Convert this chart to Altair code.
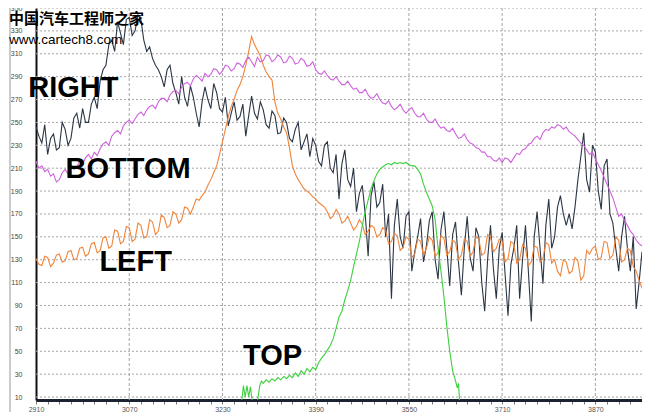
import altair as alt
import pandas as pd

# ---------------- data ----------------
x_right = list(range(2910, 3951, 5))
right_vals = [
    246, 238, 232, 248, 222, 236, 240, 226, 228, 250,
    244, 230, 236, 254, 258, 245, 262, 250, 250, 266,
    272, 262, 286, 296, 300, 318, 322, 312, 338, 328,
    318, 340, 342, 326, 330, 344, 340, 322, 312, 316,
    306, 300, 296, 290, 281, 296, 300, 284, 276, 266,
    290, 272, 264, 282, 272, 258, 246, 268, 281, 270,
    262, 284, 276, 262, 259, 272, 247, 258, 268, 252,
    255, 266, 238, 256, 273, 258, 253, 268, 261, 248,
    245, 260, 256, 240, 241, 254, 250, 236, 233, 244,
    250, 226, 233, 240, 220, 236, 230, 216, 212, 230,
    233, 210, 206, 222, 183, 214, 226, 200, 194, 210,
    172, 188, 195, 170, 133, 186, 198, 176, 180, 196,
    150, 170, 96, 160, 183, 150, 140, 168, 172, 120,
    137, 150, 166, 128, 142, 164, 172, 130, 113, 156,
    172, 140, 107, 152, 163, 128, 99, 140, 168, 132,
    120, 158, 150, 110, 85, 130, 160, 122, 96, 140,
    154, 118, 81, 126, 140, 160, 96, 130, 160, 120,
    76, 150, 172, 140, 109, 160, 183, 140, 150, 176,
    186, 170, 160, 170, 157, 176, 200, 220, 241, 200,
    189, 230, 224, 190, 174, 212, 218, 170, 162, 140,
    120, 150, 168, 140, 120, 150, 87, 110, 137]

x_bottom = list(range(2910, 3951, 5))
bottom_vals = [
    216, 210, 212, 207, 209, 203, 205, 198, 200, 206,
    209, 205, 213, 209, 211, 216, 214, 219, 222, 218,
    224, 221, 227, 231, 233, 230, 238, 241, 243, 240,
    247, 250, 252, 249, 253, 257, 259, 256, 261, 264,
    265, 262, 268, 271, 271, 268, 274, 277, 278, 275,
    281, 284, 285, 282, 288, 291, 289, 286, 293, 290,
    292, 297, 296, 292, 295, 300, 299, 295, 297, 302,
    301, 298, 304, 307, 303, 299, 307, 303, 304, 309,
    308, 303, 305, 309, 307, 302, 303, 308, 306, 301,
    302, 306, 304, 299, 300, 303, 296, 293, 292, 295,
    291, 288, 287, 290, 286, 283, 283, 286, 282, 279,
    280, 276, 276, 279, 274, 271, 272, 275, 270, 267,
    266, 269, 264, 261, 263, 266, 261, 258, 261, 263,
    258, 255, 255, 258, 253, 250, 250, 253, 248, 245,
    246, 243, 242, 245, 240, 236, 237, 240, 235, 232,
    231, 228, 227, 224, 224, 220, 220, 217, 216, 219,
    215, 219, 218, 215, 219, 223, 222, 226, 227, 231,
    232, 236, 238, 235, 241, 244, 243, 246, 245, 248,
    247, 244, 246, 242, 240, 238, 235, 232, 230, 226,
    222, 224, 218, 213, 208, 202, 196, 190, 184, 176,
    168, 170, 164, 160, 155, 152, 147, 144, 142]

x_left = list(range(2910, 3951, 5))
left_vals = [
    131, 126, 125, 133, 132, 124, 127, 134, 135, 128,
    129, 137, 138, 130, 131, 140, 141, 133, 135, 144,
    145, 136, 138, 149, 150, 140, 142, 156, 155, 144,
    146, 159, 158, 146, 148, 162, 160, 149, 150, 165,
    163, 152, 155, 169, 167, 158, 160, 172, 170, 162,
    165, 176, 175, 170, 176, 183, 182, 186, 189, 195,
    200, 206, 212, 222, 233, 244, 255, 264, 270, 278,
    283, 290, 300, 312, 325, 318, 313, 308, 300, 294,
    290, 287, 268, 258, 253, 246, 241, 228, 212, 205,
    200, 196, 192, 190, 188, 185, 183, 180, 178, 176,
    172, 166, 168, 174, 170, 162, 164, 168, 162, 156,
    159, 165, 161, 152, 155, 160, 158, 150, 152, 158,
    156, 144, 146, 153, 151, 138, 141, 150, 148, 132,
    135, 148, 146, 134, 140, 150, 147, 133, 136, 151,
    149, 134, 137, 147, 145, 130, 134, 148, 146, 133,
    137, 150, 148, 134, 136, 152, 150, 137, 140, 148,
    146, 128, 131, 146, 144, 127, 130, 143, 140, 125,
    128, 142, 141, 128, 131, 145, 143, 127, 130, 120,
    116, 130, 128, 118, 120, 132, 129, 112, 116, 138,
    135, 140, 142, 130, 132, 146, 145, 131, 134, 150,
    147, 128, 130, 140, 138, 124, 120, 112, 105]

x_top = [3263, 3266, 3269, 3272, 3275, 3278, 3281, 3290, 3294, 3297,
         3300, 3305, 3310, 3315, 3320, 3325, 3330, 3335, 3340, 3345,
         3350, 3355, 3360, 3365, 3370, 3375, 3380, 3385, 3390, 3395,
         3400, 3405, 3410, 3415, 3420, 3425, 3430, 3435, 3440, 3445,
         3450, 3455, 3460, 3465, 3470, 3475, 3480, 3485, 3490, 3495,
         3500, 3505, 3510, 3515, 3520, 3525, 3530, 3535, 3540, 3545,
         3550, 3555, 3560, 3565, 3570, 3575, 3580, 3585, 3590, 3595,
         3600, 3605, 3610, 3615, 3620, 3625, 3630, 3633, 3635, 3637]
top_vals = [6, 20, 10, 20, 10, 19, 6, 6, 20, 24,
            22, 25, 23, 26, 24, 27, 25, 28, 26, 29,
            27, 31, 28, 33, 30, 35, 32, 36, 34, 40,
            44, 47, 51, 55, 61, 70, 80, 85, 95, 103,
            112, 124, 135, 146, 160, 172, 182, 192, 199, 205,
            209, 211, 213, 214, 213, 215, 214, 215, 214, 215,
            213, 212, 212, 209, 205, 196, 189, 183, 177, 165,
            140, 120, 98, 72, 50, 33, 24, 18, 22, 6]

series_names = ["RIGHT", "LEFT", "BOTTOM", "TOP"]
series_colors = ["#2b3645", "#f0843a", "#cf62dd", "#3fcf3f"]

y_ticks = list(range(10, 351, 20))
x_label_vals = [2910, 3070, 3230, 3390, 3550, 3710, 3870]
x_minor_ticks = list(range(2910, 3951, 20))

ann_labels = ["RIGHT", "BOTTOM", "LEFT", "TOP"]
ann_x = [2974, 3068, 3081, 3316]
ann_y = [280, 209, 128, 46]

# ---------------- frames ----------------
rows = []
for name, xs, ys in [("RIGHT", x_right, right_vals), ("LEFT", x_left, left_vals),
                     ("BOTTOM", x_bottom, bottom_vals), ("TOP", x_top, top_vals)]:
    for i, (a, b) in enumerate(zip(xs, ys)):
        rows.append({"series": name, "x": a, "y": b, "i": i})
df = pd.DataFrame(rows)

hgrid_df = pd.DataFrame({"gy": y_ticks})
vgrid_df = pd.DataFrame({"gx": x_label_vals[1:]})

xscale = alt.Scale(domain=[2910, 3950], nice=False, zero=False)
yscale = alt.Scale(domain=[7.4, 350], nice=False, zero=False)

xaxis = alt.Axis(values=x_minor_ticks, grid=False, format="d",
                 labelExpr="(datum.value - 2910) % 160 == 0 ? datum.label : ''",
                 labelFontSize=7, labelColor="#555", labelFont="Liberation Sans",
                 tickSize=4, tickColor="#777", domainColor="#1b2333", domainWidth=3,
                 labelPadding=1, title=None, labelFlush=False, labelOverlap=False)
yaxis = alt.Axis(values=y_ticks, grid=False, labelFontSize=7, labelColor="#444",
                 labelOverlap=False, labelFont="Liberation Sans", tickSize=0,
                 labelPadding=14, domainColor="#111", domainWidth=2, title=None)

hgrid = alt.Chart(hgrid_df).mark_rule(color="#a6a6a6", strokeWidth=1, strokeDash=[2, 2]).encode(
    y=alt.Y("gy:Q", scale=yscale, axis=yaxis),
    x=alt.value(0), x2=alt.value(606),
)
vgrid = alt.Chart(vgrid_df).mark_rule(color="#a6a6a6", strokeWidth=1, strokeDash=[3, 2]).encode(
    x=alt.X("gx:Q", scale=xscale, axis=xaxis),
    y=alt.value(0), y2=alt.value(392),
)

frame = alt.Chart(pd.DataFrame({"a": [0]})).mark_rule(color="#999", strokeWidth=1).encode(
    x=alt.value(-26), y=alt.value(-8), y2=alt.value(404)
)

lines = alt.Chart(df).mark_line(strokeWidth=1.1, clip=True).encode(
    x=alt.X("x:Q", scale=xscale, axis=xaxis),
    y=alt.Y("y:Q", scale=yscale, axis=yaxis),
    color=alt.Color("series:N", scale=alt.Scale(domain=series_names, range=series_colors), legend=None),
    order="i:Q",
)

ann_df = pd.DataFrame({"label": ann_labels, "x": ann_x, "y": ann_y})
ann = alt.Chart(ann_df).mark_text(font="Liberation Sans", fontWeight="bold", fontSize=29,
                                  color="#000", align="center", baseline="middle").encode(
    x=alt.X("x:Q", scale=xscale, axis=xaxis), y=alt.Y("y:Q", scale=yscale, axis=yaxis), text="label:N"
)

wm_df = pd.DataFrame({"t": ["中国汽车工程师之家"]})
wm1 = alt.Chart(wm_df).mark_text(font="Noto Sans CJK SC", fontWeight="bold", fontSize=15,
                                 color="#000", align="left", baseline="middle").encode(
    x=alt.value(-27), y=alt.value(11), text="t:N")
wm2_df = pd.DataFrame({"t": ["www.cartech8.com"]})
wm2 = alt.Chart(wm2_df).mark_text(font="Liberation Sans", fontSize=13.5,
                                  color="#000", align="left", baseline="middle").encode(
    x=alt.value(-27), y=alt.value(32), text="t:N")

chart = alt.layer(frame, hgrid, vgrid, lines, ann, wm1, wm2).properties(
    width=606, height=392,
    autosize=alt.AutoSizeParams(type="none"),
    padding={"left": 28, "top": 0, "right": 0, "bottom": 12},
    background="#ffffff",
).configure_view(stroke=None)

chart.save("out.html", embed_options={"renderer": "svg", "actions": False})
